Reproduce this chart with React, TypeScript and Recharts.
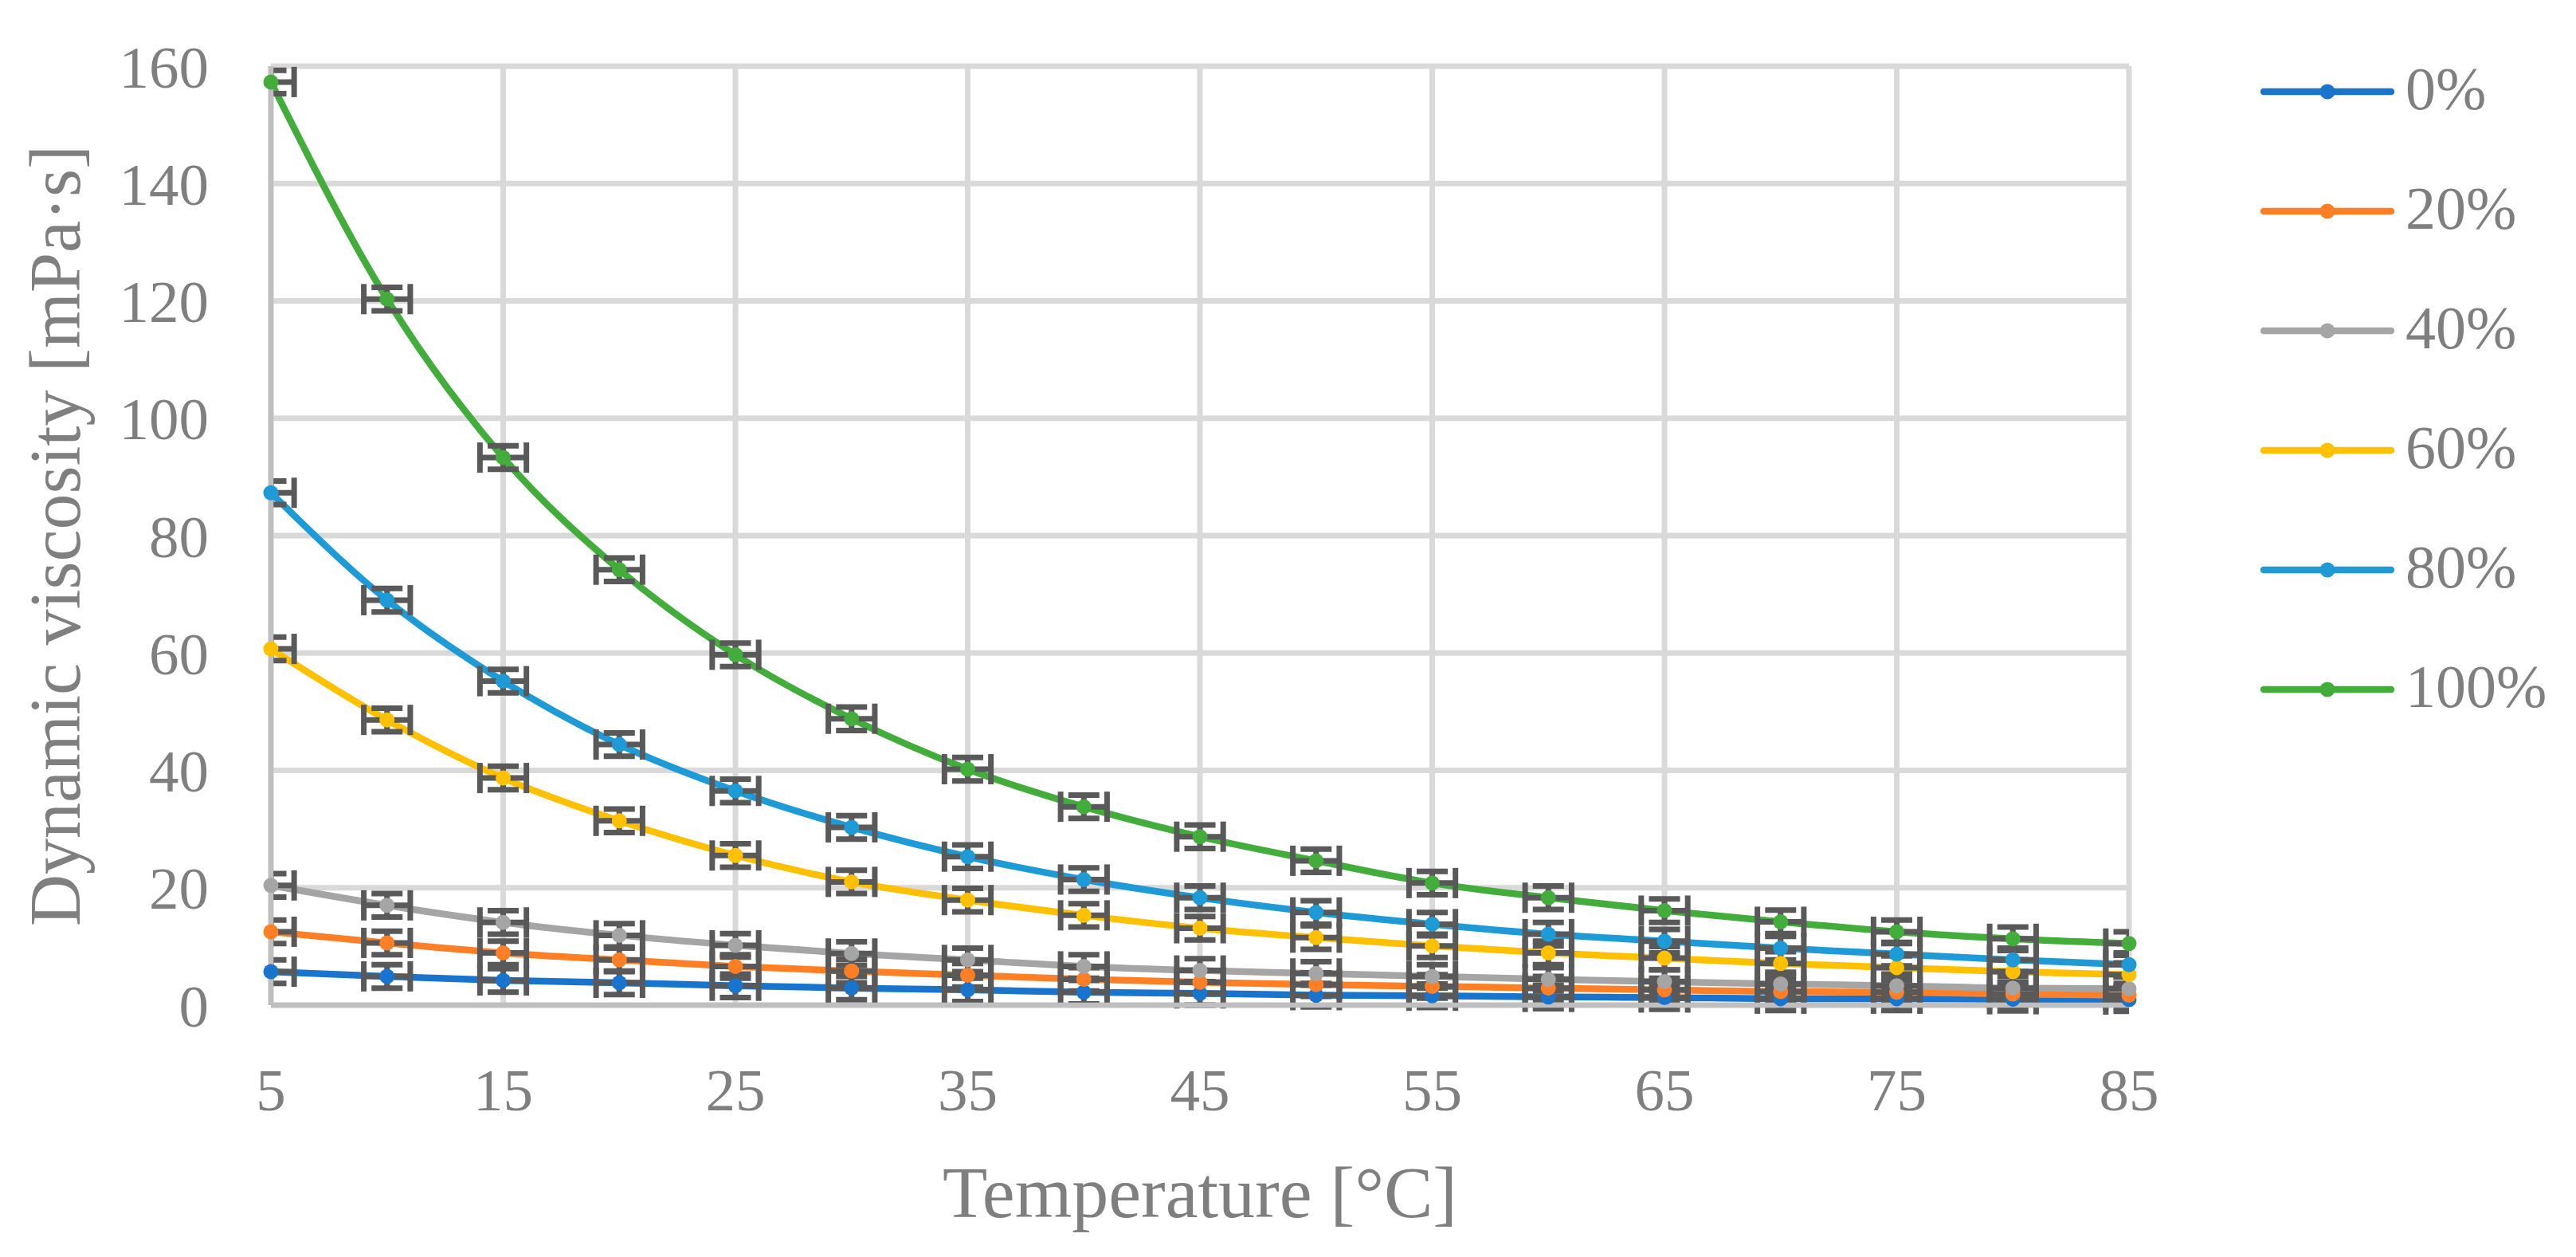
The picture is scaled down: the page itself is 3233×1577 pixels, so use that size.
import React from 'react';
import { ComposedChart, Line, Scatter, XAxis, YAxis, CartesianGrid, Legend, ErrorBar } from 'recharts';

// Temperature [°C]
const temperatures = [5, 10, 15, 20, 25, 30, 35, 40, 45, 50, 55, 60, 65, 70, 75, 80, 85];

// Dynamic viscosity [mPa·s] per concentration
const visc0 = [5.7, 4.9, 4.2, 3.8, 3.3, 2.9, 2.6, 2.2, 2.0, 1.7, 1.6, 1.4, 1.3, 1.1, 1.1, 1.0, 0.95];
const visc20 = [12.5, 10.6, 8.9, 7.7, 6.6, 5.8, 5.1, 4.4, 3.9, 3.5, 3.2, 2.9, 2.6, 2.3, 2.2, 1.9, 1.7];
const visc40 = [20.4, 17.0, 14.1, 11.9, 10.2, 8.8, 7.7, 6.6, 5.9, 5.4, 4.9, 4.4, 4.0, 3.6, 3.3, 2.9, 2.8];
const visc60 = [60.7, 48.6, 38.7, 31.4, 25.5, 21.0, 17.9, 15.3, 13.1, 11.5, 10.1, 8.9, 8.0, 7.1, 6.4, 5.7, 5.2];
const visc80 = [87.3, 69.0, 55.2, 44.4, 36.5, 30.3, 25.3, 21.4, 18.3, 15.8, 13.8, 12.1, 10.9, 9.7, 8.7, 7.7, 6.9];
const visc100 = [157.3, 120.3, 93.3, 74.2, 59.7, 48.8, 40.2, 33.8, 28.7, 24.6, 20.8, 18.3, 16.1, 14.2, 12.5, 11.3, 10.5];

const seriesNames = ['0%', '20%', '40%', '60%', '80%', '100%'];
const seriesColors = ['#1874CD', '#FF7F27', '#A5A5A5', '#FFC000', '#1E9BD7', '#43AD3C'];

// error bar sizes (± value)
const tempError = 1;
const viscError = 2;

const xTicks = [5, 15, 25, 35, 45, 55, 65, 75, 85];
const yTicks = [0, 20, 40, 60, 80, 100, 120, 140, 160];

const FONT = '"Liberation Serif", serif';
const TEXT_COLOR = '#7f7f7f';

// layout
const CHART_W = 3233;
const CHART_H = 1577;
const MARGIN = { top: 83, right: 561, bottom: 0, left: 0 };
const Y_AXIS_W = 340;
const X_AXIS_H = 316;
const PLOT_LEFT = MARGIN.left + Y_AXIS_W;
const PLOT_WIDTH = CHART_W - MARGIN.right - PLOT_LEFT;

const seriesValues = [visc0, visc20, visc40, visc60, visc80, visc100];
const seriesData = seriesValues.map(vals =>
  temperatures.map((t, i) => ({ t, v: vals[i], ex: tempError, ey: viscError }))
);

const LegendContent = () => (
  <div style={{ fontFamily: FONT, fontSize: 76, color: TEXT_COLOR }}>
    {seriesNames.map((name, i) => (
      <div key={name} style={{ display: 'flex', alignItems: 'center', height: 150 }}>
        <svg width={168} height={24}>
          <line x1={4} y1={12} x2={164} y2={12} stroke={seriesColors[i]} strokeWidth={8.5} strokeLinecap="round" />
          <circle cx={84} cy={12} r={9.5} fill={seriesColors[i]} />
        </svg>
        <span style={{ marginLeft: 14, lineHeight: 1, position: 'relative', top: -4 }}>{name}</span>
      </div>
    ))}
  </div>
);

const App = () => {
  return (
    <div style={{ position: 'absolute', left: 0, top: 0, width: CHART_W, height: CHART_H, background: '#fff' }}>
      <ComposedChart width={CHART_W} height={CHART_H} margin={MARGIN}>
        <defs>
          {/* error bars are cut at the left and right edge of the plot, like in Excel */}
          <clipPath id="eb-clip">
            <rect x={PLOT_LEFT} y={0} width={PLOT_WIDTH} height={CHART_H} />
          </clipPath>
        </defs>
        <CartesianGrid stroke="#d9d9d9" strokeWidth={7} />
        <XAxis
          dataKey="t"
          type="number"
          domain={[5, 85]}
          ticks={xTicks}
          height={X_AXIS_H}
          tickLine={false}
          tickSize={0}
          tickMargin={79}
          axisLine={{ stroke: '#bfbfbf', strokeWidth: 6.5 }}
          tick={{ fontSize: 75, fill: TEXT_COLOR, fontFamily: FONT }}
          label={{ value: 'Temperature [°C]', position: 'insideBottom', offset: 50, fill: TEXT_COLOR, fontSize: 92, fontFamily: FONT }}
        />
        <XAxis xAxisId="eb" dataKey="t" type="number" domain={[5, 85]} allowDataOverflow hide />
        <YAxis
          type="number"
          domain={[0, 160]}
          ticks={yTicks}
          width={Y_AXIS_W}
          tickLine={false}
          tickSize={0}
          tickMargin={78}
          axisLine={{ stroke: '#bfbfbf', strokeWidth: 6.5 }}
          tick={{ fontSize: 75, fill: TEXT_COLOR, fontFamily: FONT }}
          label={{
            value: 'Dynamic viscosity [mPa·s]',
            angle: -90,
            position: 'insideLeft',
            offset: 68,
            fill: TEXT_COLOR,
            fontSize: 90,
            fontFamily: FONT,
            style: { textAnchor: 'middle' },
          }}
        />
        <YAxis yAxisId="eb" type="number" domain={[0, 160]} allowDataOverflow hide />

        {seriesData.map((data, i) => (
          <Line
            key={`line-${i}`}
            data={data}
            dataKey="v"
            name={seriesNames[i]}
            type="monotone"
            stroke={seriesColors[i]}
            strokeWidth={8.5}
            dot={false}
            activeDot={false}
            isAnimationActive={false}
          />
        ))}

        {seriesData.map((data, i) => (
          <Scatter
            key={`eb-${i}`}
            data={data}
            dataKey="v"
            xAxisId="eb"
            yAxisId="eb"
            legendType="none"
            shape={() => <g />}
            isAnimationActive={false}
          >
            <ErrorBar dataKey="ey" direction="y" width={19.5} stroke="#595959" strokeWidth={7} clipPath="url(#eb-clip)" isAnimationActive={false} />
            <ErrorBar dataKey="ex" direction="x" width={19} stroke="#595959" strokeWidth={7} clipPath="url(#eb-clip)" isAnimationActive={false} />
          </Scatter>
        ))}

        {seriesData.map((data, i) => (
          <Scatter
            key={`dot-${i}`}
            data={data}
            dataKey="v"
            legendType="none"
            shape={(p: any) => <circle cx={p.cx} cy={p.cy} r={9.5} fill={seriesColors[i]} />}
            isAnimationActive={false}
          />
        ))}

        <Legend
          layout="vertical"
          align="center"
          verticalAlign="middle"
          content={<LegendContent />}
          wrapperStyle={{ left: 2837, top: 40, width: 396 }}
        />
      </ComposedChart>
    </div>
  );
};

export default App;
